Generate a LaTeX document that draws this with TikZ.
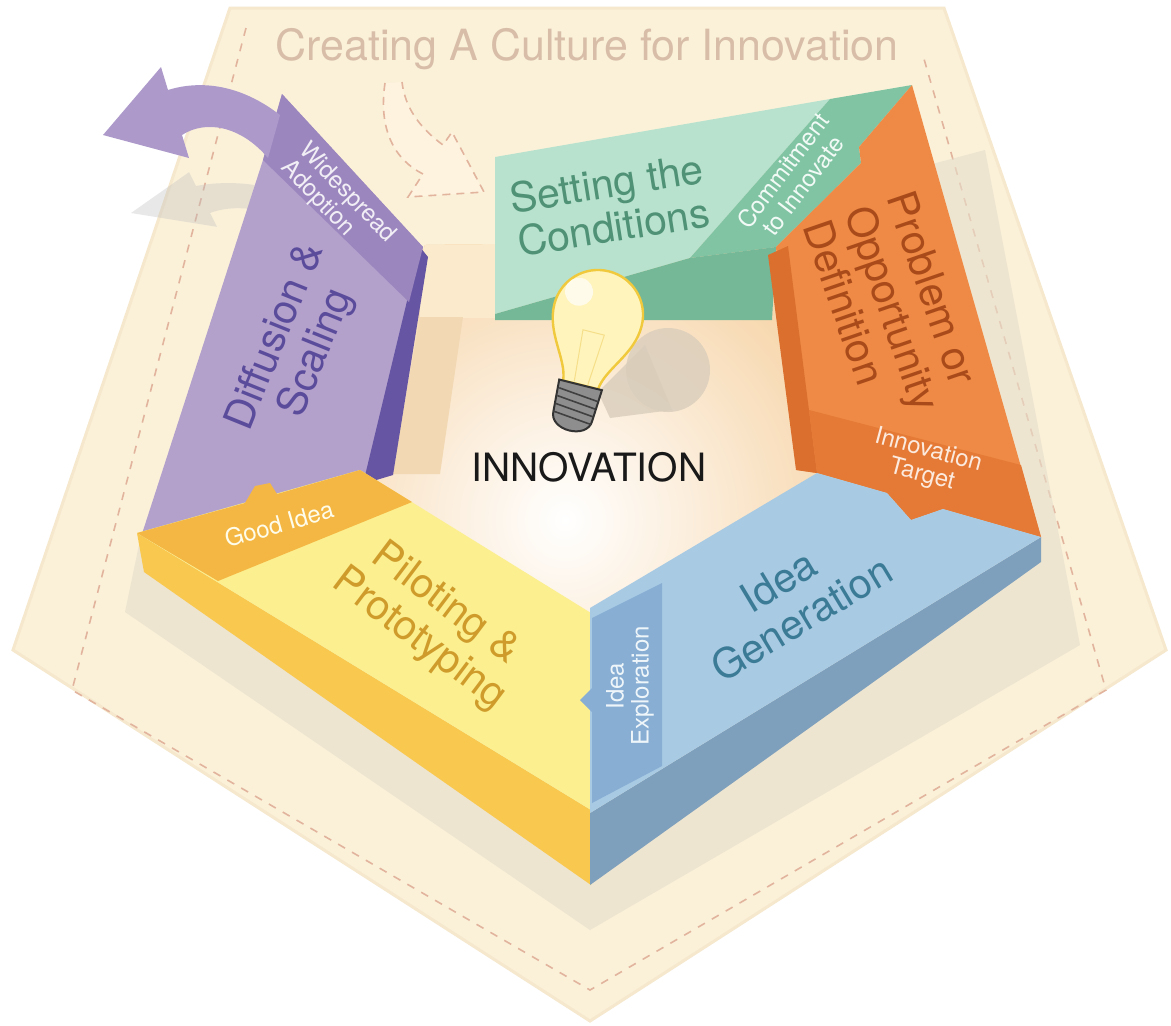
\documentclass[tikz,border=0pt]{standalone}
\usepackage{fontspec}
\setmainfont{TeX Gyre Heros}
\definecolor{cream}{HTML}{FBF1D9}
\definecolor{creamedge}{HTML}{F5E8CD}
\definecolor{creamlight}{HTML}{FDF3DF}
\definecolor{dashline}{HTML}{E2B49E}
\definecolor{titletan}{HTML}{D8BEA9}
\definecolor{ringshadow}{HTML}{E6DECB}
\definecolor{floorpeach}{HTML}{F6D2A3}
\definecolor{wallcream}{HTML}{FBEBCC}
\definecolor{walltan}{HTML}{F2D8B3}
\definecolor{purpleface}{HTML}{B3A1CC}
\definecolor{purpletab}{HTML}{9C86BE}
\definecolor{purplestrip}{HTML}{6655A3}
\definecolor{purpletext}{HTML}{5B4B9B}
\definecolor{purplearrow}{HTML}{AD9ACB}
\definecolor{greenface}{HTML}{B8E2CD}
\definecolor{greentab}{HTML}{80C4A4}
\definecolor{greenside}{HTML}{74B898}
\definecolor{greentext}{HTML}{4F9276}
\definecolor{orangeface}{HTML}{EE8A45}
\definecolor{orangestrip}{HTML}{DA6F2E}
\definecolor{orangeband}{HTML}{E47A36}
\definecolor{orangetext}{HTML}{A84A1A}
\definecolor{blueface}{HTML}{A8CAE3}
\definecolor{bluefront}{HTML}{7FA0BC}
\definecolor{bluetab}{HTML}{88AED4}
\definecolor{bluetext}{HTML}{3C7B96}
\definecolor{yellowface}{HTML}{FBEF8F}
\definecolor{yellowfront}{HTML}{F8C84F}
\definecolor{yellowtab}{HTML}{F5B743}
\definecolor{yellowtext}{HTML}{CF9C2C}
\definecolor{bulbglass}{HTML}{FFF4BC}
\definecolor{bulbrim}{HTML}{F0C93C}
\definecolor{bulbbase}{HTML}{8E8E8E}
\definecolor{bulbshadow}{HTML}{D9CDBB}
\begin{document}
\begin{tikzpicture}[x=0.5pt,y=-0.5pt]
  \tikzset{
    blockface/.style={fill=#1, draw=none},
    biglabel/.style={text=#1, align=center, inner sep=0pt,
      font=\fontsize{20.5}{22}\selectfont},
    taglabel/.style={text=#1!18!white, align=center, inner sep=0pt,
      font=\fontsize{12}{12.5}\selectfont},
    titlelabel/.style={text=titletan, inner sep=0pt, anchor=base,
      font=\fontsize{21.5}{24}\selectfont},
    innovlabel/.style={text=black!90, inner sep=0pt,
      font=\fontsize{19.5}{22}\selectfont},
  }
  \def\turnpath{(280,115) .. controls (240,84) and (200,80) .. (168,90)
    -- (161,67) -- (103,135) -- (189,158) -- (182,135)
    .. controls (205,120) and (240,125) .. (268,158) -- cycle}
  \def\pitpath{(425,245) -- (800,240) -- (822,480) -- (590,615) -- (358,472) -- cycle}
  \fill[white] (0,0) rectangle (1171,1025);
  \useasboundingbox (0,0) rectangle (1171,1025);
  % culture pentagon
  \fill[cream, draw=creamedge, line width=1.5pt]
    (230,8) -- (944,8) -- (1166,650) -- (590,1021) -- (13,650) -- cycle;
  \draw[dashline, line width=0.8pt, dash pattern=on 4pt off 4pt]
    (246,28) -- (72,690) -- (590,990) -- (1106,690) -- (922,52);
  \fill[ringshadow, opacity=0.6]
    (985,150) -- (1080,645) -- (590,930) -- (125,612) -- (140,540) -- (420,300) -- cycle;
  \node[titlelabel] (title) at (587,60) {Creating A Culture for Innovation};
  \draw[dashline, line width=0.8pt, dash pattern=on 4pt off 3pt, fill=creamlight]
    (385,83) .. controls (378,130) and (395,160) .. (423,174) -- (408,197)
    -- (484,192) -- (452,132) -- (443,145) .. controls (420,128) and (405,108) .. (402,82);
  % the pit
  \fill[floorpeach] \pitpath;
  \begin{scope}
    \clip \pitpath;
    \shade[inner color=white, outer color=floorpeach] (565,520) circle (165pt);
    \fill[wallcream] (420,240) -- (500,240) -- (500,318) -- (420,318) -- cycle;
    \fill[walltan] (420,317) -- (463,317) -- (440,474) -- (392,474) -- cycle;
  \end{scope}
  \fill[bulbshadow, opacity=0.8] (668,370) circle (21pt);
  \fill[bulbshadow, opacity=0.8] (598,392) -- (645,345) -- (672,410) -- (610,418) -- cycle;
  % diffusion and scaling
  \begin{scope}[shift={(28,132)}, yscale=0.6]
    \fill[black!25, opacity=0.35] \turnpath;
  \end{scope}
  \fill[blockface=purpleface] (282,94) -- (423,247) -- (363,485) -- (140,540) -- (263,160) -- cycle;
  \fill[blockface=purplestrip] (420,247) -- (428,257) -- (393,475) -- (363,484) -- cycle;
  \fill[blockface=purpletab] (282,94) -- (423,247) -- (409,302) -- (263,160) -- cycle;
  \fill[purplearrow] \turnpath;
  % setting the conditions
  \fill[blockface=greenface] (495,157) -- (830,99) -- (690,258) -- (495,314) -- cycle;
  \fill[blockface=greentab] (830,99) -- (912,85) -- (859,147) -- (861,163) -- (776,247) -- (690,258) -- cycle;
  \fill[blockface=greenside] (495,314) -- (690,258) -- (776,247) -- (772,320) -- (495,320) -- cycle;
  % problem or opportunity
  \fill[blockface=orangeface] (776,247) -- (861,163) -- (859,147) -- (912,85) -- (1041,537)
    -- (943,509) -- (911,520) -- (887,493) -- (817,473) -- (797,470) -- cycle;
  \fill[blockface=orangestrip] (768,255) -- (788,246) -- (817,473) -- (796,470) -- cycle;
  \fill[blockface=orangeband] (809,410) -- (1021,465) -- (1041,537) -- (943,509)
    -- (911,520) -- (887,493) -- (817,473) -- cycle;
  % piloting
  \fill[blockface=yellowfront] (137,533) -- (591,810) -- (591,885) -- (144,572) -- cycle;
  \fill[blockface=yellowface] (137,533) -- (360,470) -- (591,613) -- (591,810) -- cycle;
  \fill[blockface=yellowtab] (137,533) -- (245,503) -- (255,486) -- (270,483) -- (277,494)
    -- (360,470) -- (412,502) -- (218,581) -- cycle;
  % idea generation
  \fill[blockface=bluefront] (590,813) -- (1041,537) -- (1041,562) -- (590,885) -- cycle;
  \fill[blockface=blueface] (590,608) -- (817,473) -- (887,493) -- (911,520) -- (943,509)
    -- (1041,537) -- (590,813) -- cycle;
  \fill[blockface=bluetab] (592,618) -- (662,583) -- (662,766) -- (592,803) -- (592,712)
    -- (580,700) -- (592,688) -- cycle;
  % bulb
  \begin{scope}[shift={(598,315)}, rotate=-14]
    \fill[bulbglass, draw=bulbrim, line width=1.2pt]
      (-18,72) .. controls (-20,50) and (-45,30) .. (-45,0)
      .. controls (-45,-25) and (-25,-45) .. (0,-45)
      .. controls (25,-45) and (45,-25) .. (45,0)
      .. controls (45,30) and (20,50) .. (18,72) -- cycle;
    \draw[bulbrim!60, line width=0.5pt] (-7,70) -- (-11,18) -- (11,18) -- (7,70);
    \fill[white, opacity=0.7] (-24,-18) circle (7pt);
    \fill[bulbbase, draw=black!80, line width=1pt]
      (-22,72) -- (22,72) -- (20,104) .. controls (20,124) and (-20,124) .. (-20,104) -- cycle;
    \foreach \y in {80,88,96,104}
      \draw[black!75, line width=0.8pt] (-20,\y) -- (20,\y+4);
  \end{scope}
  \node[innovlabel] (innovation) at (589,467) {INNOVATION};
  % labels
  \node[biglabel=purpletext, rotate=68] (diffusion) at (297,345) {Diffusion \&\\Scaling};
  \node[taglabel=purpleface, rotate=-46, align=left] (widespread) at (338,202) {Widespread\\Adoption};
  \node[biglabel=greentext, rotate=9] (setting) at (610,205) {Setting the\\Conditions};
  \node[taglabel=greenface, rotate=53] (commitment) at (793,178) {Commitment\\to Innovate};
  \node[biglabel=orangetext, rotate=-71, align=left] (problem) at (893,308) {Problem or\\Opportunity\\Definition};
  \node[taglabel=orangeface, rotate=-15] (target) at (925,463) {Innovation\\Target};
  \node[biglabel=bluetext, rotate=31] (generation) at (790,600) {Idea\\Generation};
  \node[taglabel=blueface, rotate=90] (exploration) at (630,686) {Idea\\Exploration};
  \node[biglabel=yellowtext, rotate=-37] (piloting) at (432,622) {Piloting \&\\Prototyping};
  \node[taglabel=yellowface, rotate=16] (goodidea) at (279,524) {Good Idea};
\end{tikzpicture}
\end{document}
